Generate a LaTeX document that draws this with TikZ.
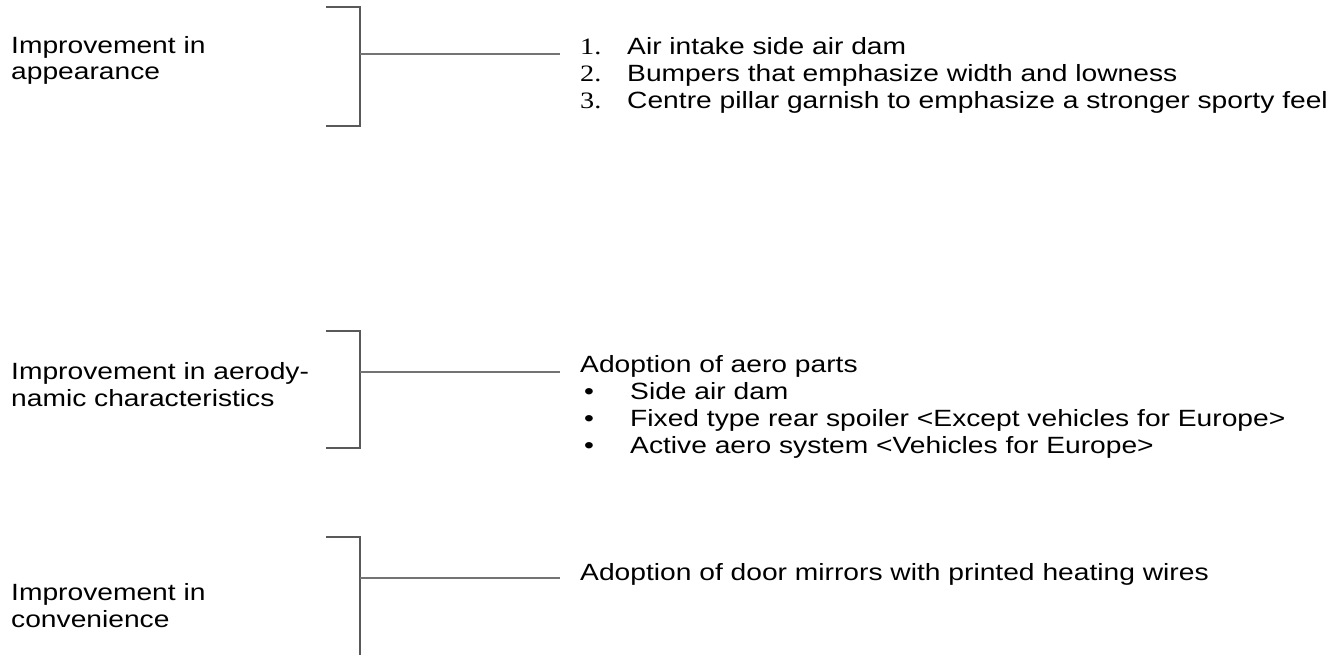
\documentclass[tikz,border=0pt]{standalone}
\usepackage{fontspec}
\setmainfont[FakeStretch=1.2]{Liberation Sans}
\newfontfamily\numfont[FakeStretch=1.2]{Liberation Serif}
\begin{document}
\begin{tikzpicture}[x=1pt,y=-1pt,
  txt/.style={anchor=base west,inner sep=0pt,font=\fontsize{23.5}{27}\selectfont},
  num/.style={anchor=base west,inner sep=0pt,font=\numfont\fontsize{23.5}{27}\selectfont},
  blt/.style={anchor=base west,inner sep=0pt,font=\fontsize{23.5}{27}\selectfont},
  brk/.style={draw=black!65,line width=1.3pt},
  lnk/.style={draw=black!55,line width=1.2pt}]
\useasboundingbox[fill=white] (0,0) rectangle (1336,655);

% ---------- Section 1 ----------
\node[txt] (a1) at (11,54) {Improvement in};
\node[txt] (a2) at (11,80) {appearance};
\coordinate (b1t) at (326,7);
\coordinate (b1b) at (326,126);
\coordinate (b1m) at (360,54);
\coordinate (e1) at (560,54);
\draw[brk] (b1t) -| (360,126) -- (b1b);
\draw[lnk] (b1m) -- (e1);
\node[num] (n1) at (580,55) {1.};
\node[txt] (t1) at (627,55) {Air intake side air dam};
\node[num] (n2) at (580,82) {2.};
\node[txt] (t2) at (627,82) {Bumpers that emphasize width and lowness};
\node[num] (n3) at (580,109) {3.};
\node[txt] (t3) at (627,109) {Centre pillar garnish to emphasize a stronger sporty feel};

% ---------- Section 2 ----------
\node[txt] (c1) at (11,379) {Improvement in aerody-};
\node[txt] (c2) at (11,406) {namic characteristics};
\coordinate (b2t) at (326,331);
\coordinate (b2b) at (326,448);
\coordinate (b2m) at (360,372);
\coordinate (e2) at (560,372);
\draw[brk] (b2t) -| (360,448) -- (b2b);
\draw[lnk] (b2m) -- (e2);
\node[txt] (d0) at (580,372) {Adoption of aero parts};
\node[blt] (p1) at (584,399) {\textbullet};
\node[txt] (d1) at (630,399) {Side air dam};
\node[blt] (p2) at (584,426) {\textbullet};
\node[txt] (d2) at (630,426) {Fixed type rear spoiler <Except vehicles for Europe>};
\node[blt] (p3) at (584,453) {\textbullet};
\node[txt] (d3) at (630,453) {Active aero system <Vehicles for Europe>};

% ---------- Section 3 ----------
\node[txt] (f1) at (11,600) {Improvement in};
\node[txt] (f2) at (11,627) {convenience};
\coordinate (b3t) at (326,537);
\coordinate (b3m) at (360,578);
\coordinate (b3b) at (360,655);
\coordinate (e3) at (560,578);
\draw[brk] (b3t) -| (b3b);
\draw[lnk] (b3m) -- (e3);
\node[txt] (g1) at (580,580) {Adoption of door mirrors with printed heating wires};
\end{tikzpicture}
\end{document}
